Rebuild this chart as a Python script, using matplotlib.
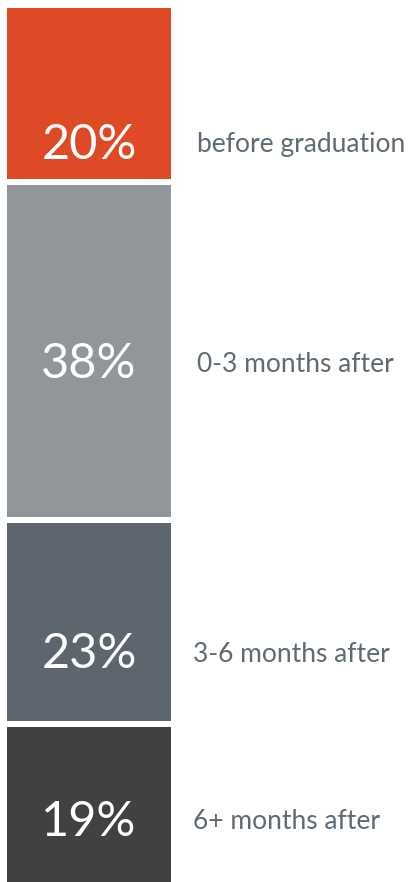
import matplotlib.pyplot as plt
import matplotlib.transforms as mtransforms

categories = ['before graduation', '0-3 months after', '3-6 months after', '6+ months after']
values = [20, 38, 23, 19]
colors = ['#DF4A26', '#939699', '#5D666E', '#414143']

# where the text sits inside each segment (fraction of segment, from top)
text_pos = [0.77, 0.53, 0.645, 0.565]
gap = 0.68

fig = plt.figure(figsize=(4.15, 8.82), dpi=100)
ax = fig.add_axes([7 / 415, 0, 164 / 415, 874 / 882])
ax.set_xlim(-0.5, 0.5)
ax.set_ylim(98.5, 0)
ax.axis('off')

lbl_tr = mtransforms.blended_transform_factory(ax.transAxes, ax.transData)
label_x = [1.158, 1.158, 1.135, 1.135]

start = 0
for cat, v, c, fpos, lx in zip(categories, values, colors, text_pos, label_x):
    ax.bar(0, v - gap, bottom=start, width=1.0, color=c, align='center')
    ty = start + fpos * v
    ax.text(0, ty, f'{v}%', color='white', ha='center', va='center',
            fontsize=35, family='Lato')
    ax.text(lx, ty, cat, color='#5F6A72', ha='left', va='center',
            fontsize=19, family='Lato', transform=lbl_tr, clip_on=False)
    start += v

fig.savefig('out.png', dpi=100)
